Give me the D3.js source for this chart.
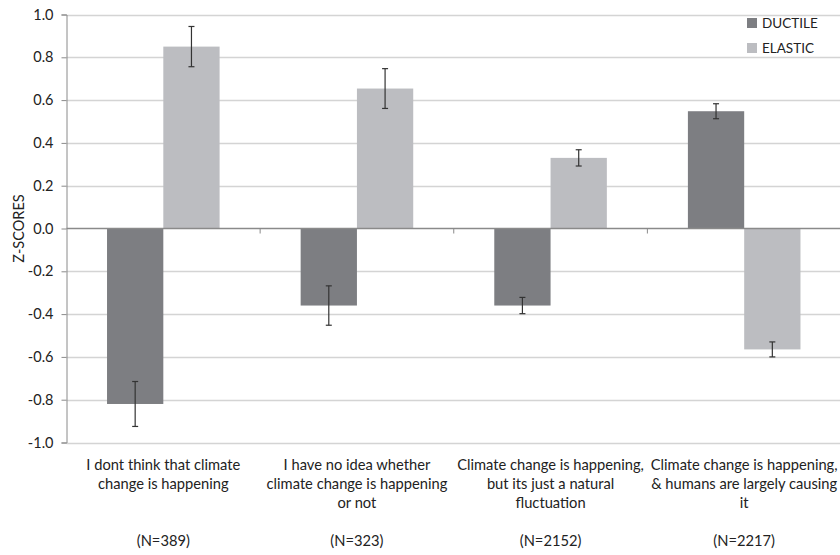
<!DOCTYPE html>
<html>
<head>
<meta charset="utf-8">
<script src="https://cdn.jsdelivr.net/npm/d3@7"></script>
<style>
  html, body { margin: 0; padding: 0; background: #fff; }
  svg { display: block; }
  text { font-family: Lato, "Open Sans", sans-serif; fill: #222; }
</style>
</head>
<body>
<svg id="chart" width="840" height="555"></svg>
<script>
const categories = [
  ["I dont think that climate", "change is happening"],
  ["I have no idea whether", "climate change is happening", "or not"],
  ["Climate change is happening,", "but its just a natural", "fluctuation"],
  ["Climate change is happening,", "& humans are largely causing", "it"]
];
const sampleSizes = ["(N=389)", "(N=323)", "(N=2152)", "(N=2217)"];
const seriesNames = ["DUCTILE", "ELASTIC"];
const ductile = [-0.82, -0.36, -0.36, 0.548];
const elastic = [0.85, 0.654, 0.33, -0.565];
const ductileErr = [0.105, 0.092, 0.038, 0.035];
const elasticErr = [0.094, 0.093, 0.038, 0.035];
const yTicks = [1.0, 0.8, 0.6, 0.4, 0.2, 0.0, -0.2, -0.4, -0.6, -0.8, -1.0];
const yLabel = "Z-SCORES";
const colors = ["#7d7e82", "#bcbdc1"];

(function () {
const svg = d3.select("#chart");
const mLeft = 66.5, mRight = 841, mTop = 14.5, mBottom = 442.5;

const y = d3.scaleLinear().domain([-1, 1]).range([mBottom, mTop]);
const x0 = d3.scaleBand().domain(d3.range(categories.length)).range([mLeft, mRight]).paddingInner(0).paddingOuter(0);
const x1 = d3.scaleBand().domain(seriesNames).range([0, x0.bandwidth()]).paddingInner(0).paddingOuter(0.72);

// gridlines
svg.append("g").selectAll("line").data(yTicks.filter(d => d !== 0)).join("line")
  .attr("x1", mLeft).attr("x2", 840)
  .attr("y1", d => Math.round(y(d)) + 0.5).attr("y2", d => Math.round(y(d)) + 0.5)
  .attr("stroke", "#d4d4d4").attr("stroke-width", 1.3);

// y axis
const yAxis = d3.axisLeft(y).tickValues(yTicks).tickFormat(d3.format(".1f")).tickSize(5).tickPadding(8);
const ya = svg.append("g").attr("transform", `translate(${mLeft},0)`).call(yAxis);
ya.select(".domain").attr("stroke", "#8a8a8a");
ya.selectAll(".tick line").attr("stroke", "#8a8a8a");
ya.selectAll(".tick text").attr("font-size", 14.5).attr("font-family", "Lato, sans-serif").attr("fill", "#222")
  .text(d => d3.format(".1f")(d).replace("−", "-"));

// bars
const data = categories.map((c, i) => [
  { s: seriesNames[0], v: ductile[i], e: ductileErr[i], c: 0 },
  { s: seriesNames[1], v: elastic[i], e: elasticErr[i], c: 1 }
]);
const groups = svg.append("g").selectAll("g").data(data).join("g")
  .attr("transform", (d, i) => `translate(${x0(i)},0)`);
groups.selectAll("rect").data(d => d).join("rect")
  .attr("x", d => x1(d.s))
  .attr("width", x1.bandwidth())
  .attr("y", d => y(Math.max(0, d.v)))
  .attr("height", d => Math.abs(y(d.v) - y(0)))
  .attr("fill", d => colors[d.c]);

// zero axis line + category ticks
svg.append("line").attr("x1", mLeft).attr("x2", 840).attr("y1", y(0)).attr("y2", y(0))
  .attr("stroke", "#8a8a8a").attr("stroke-width", 1.3);
svg.append("g").selectAll("line").data(d3.range(1, categories.length)).join("line")
  .attr("x1", i => x0(i)).attr("x2", i => x0(i))
  .attr("y1", y(0)).attr("y2", y(0) + 5)
  .attr("stroke", "#8a8a8a");

// error bars
const eb = groups.selectAll("g.err").data(d => d).join("g").attr("class", "err");
eb.append("line")
  .attr("x1", d => x1(d.s) + x1.bandwidth() / 2).attr("x2", d => x1(d.s) + x1.bandwidth() / 2)
  .attr("y1", d => y(d.v + d.e)).attr("y2", d => y(d.v - d.e))
  .attr("stroke", "#333").attr("stroke-width", 1.2);
eb.selectAll("line.cap").data(d => [{ d, t: d.v + d.e }, { d, t: d.v - d.e }]).join("line")
  .attr("class", "cap")
  .attr("x1", o => x1(o.d.s) + x1.bandwidth() / 2 - 3).attr("x2", o => x1(o.d.s) + x1.bandwidth() / 2 + 3)
  .attr("y1", o => y(o.t)).attr("y2", o => y(o.t))
  .attr("stroke", "#333").attr("stroke-width", 1.2);

// category labels
const lab = svg.append("g").selectAll("text").data(categories).join("text")
  .attr("text-anchor", "middle").attr("font-size", 14.7)
  .attr("x", (d, i) => x0(i) + x0.bandwidth() / 2);
lab.selectAll("tspan").data(d => d).join("tspan")
  .attr("x", function () { return d3.select(this.parentNode).attr("x"); })
  .attr("y", (d, j) => 470 + j * 19)
  .text(d => d);
svg.append("g").selectAll("text").data(sampleSizes).join("text")
  .attr("text-anchor", "middle").attr("font-size", 14.7)
  .attr("x", (d, i) => x0(i) + x0.bandwidth() / 2)
  .attr("y", 546).text(d => d);

// y label
svg.append("text").attr("transform", `translate(24,${y(0)}) rotate(-90)`)
  .attr("text-anchor", "middle").attr("font-size", 14.5).text(yLabel);

// legend
const lg = svg.append("g").selectAll("g").data(seriesNames).join("g")
  .attr("transform", (d, i) => `translate(747,${18 + i * 25})`);
lg.append("rect").attr("width", 10).attr("height", 10).attr("fill", (d, i) => colors[i]);
lg.append("text").attr("x", 15).attr("y", 10).attr("font-size", 13.5).text(d => d);
})();
</script>
</body>
</html>
